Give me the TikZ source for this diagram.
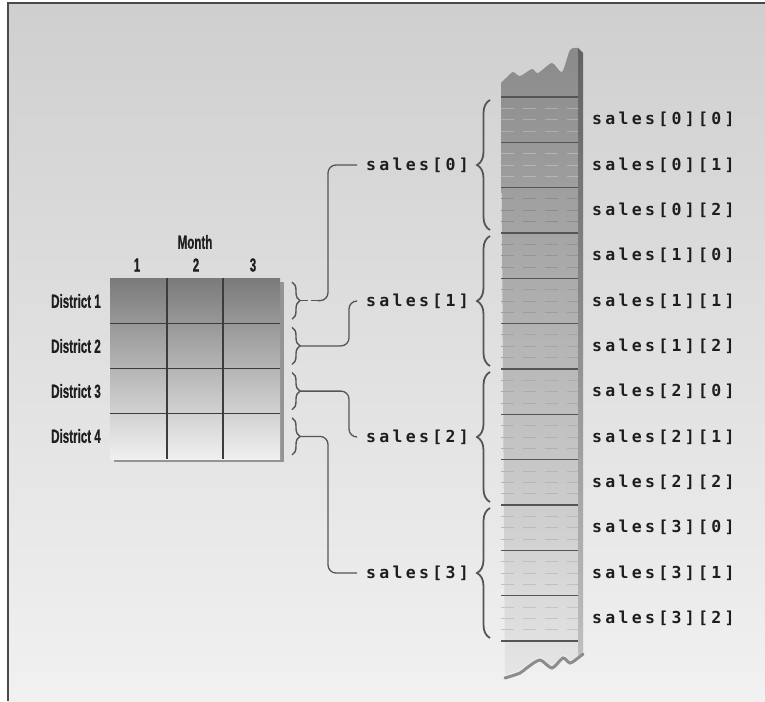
\documentclass[tikz,border=0pt]{standalone}
\usepackage{fontspec}
\usetikzlibrary{decorations.pathreplacing}
\newfontfamily\condf[FakeStretch=0.61, FakeBold=0.6]{Liberation Sans Bold}
\newfontfamily\monof[LetterSpace=20]{DejaVu Sans Mono Bold}
\definecolor{bgtop}{HTML}{CFCFCF}
\definecolor{bgbot}{HTML}{F1F1F1}
\definecolor{framec}{HTML}{4A4A4A}
\definecolor{linec}{HTML}{555555}
\definecolor{gridline}{HTML}{3C3C3C}
\definecolor{sepc}{HTML}{555555}
\definecolor{txtc}{HTML}{1E1E1E}
\tikzset{
  headlab/.style={font=\condf\fontsize{19}{21}\selectfont, text=txtc, inner sep=0pt},
  arrlab/.style={font=\monof\fontsize{16.5}{18}\selectfont, text=txtc, inner sep=0pt},
  rowlab/.style={font=\monof\fontsize{16.5}{18}\selectfont, text=txtc, inner ysep=0pt, inner xsep=9pt, anchor=west},
  conn/.style={draw=linec, line width=1.3pt, rounded corners=8pt},
  smallbrace/.style={draw=linec, line width=1.4pt, decorate, decoration={brace, amplitude=8pt}},
  bigbrace/.style={draw=linec, line width=1.8pt, decorate, decoration={brace, amplitude=13pt}},
  gline/.style={draw=gridline, line width=1.3pt},
  sepline/.style={draw=sepc, line width=1.3pt},
  dline/.style={line width=1pt, dash pattern=on 13pt off 9pt},
}
\begin{document}
\begin{tikzpicture}[x=1pt,y=-1pt]
\path[use as bounding box] (0,0) rectangle (765,701);
% background and frame
\shade[top color=bgtop, bottom color=bgbot] (8,3) rectangle (765,701);
\draw[framec, line width=1.5pt] (8,701) -- (8,3) -- (765,3);

% ---- 2D array grid ----
\fill[black!42] (114,282) rectangle (284,462);
\shade[top color=black!52, bottom color=black!6] (110,278) rectangle (280,459);
\foreach \x in {167,223} \draw[gline] (\x,278) -- (\x,459);
\foreach \y in {323.25,368.5,413.75} \draw[gline] (110,\y) -- (280,\y);

\node[headlab] (month) at (195,242) {Month};
\node[headlab] (m1) at (137,265) {1};
\node[headlab] (m2) at (196,265) {2};
\node[headlab] (m3) at (253,265) {3};
\node[headlab, anchor=east] (d1) at (101,301) {District 1};
\node[headlab, anchor=east] (d2) at (101,346) {District 2};
\node[headlab, anchor=east] (d3) at (101,391) {District 3};
\node[headlab, anchor=east] (d4) at (101,436) {District 4};

% small braces
\foreach \i/\t in {1/278,2/323.25,3/368.5,4/413.75}{
  \draw[smallbrace] (292,\t+4) -- (292,\t+41.25);
}
\coordinate (t1) at (300,300.6);
\coordinate (t2) at (300,345.9);
\coordinate (t3) at (300,391.1);
\coordinate (t4) at (300,436.4);

% ---- memory column ----
\shade[top color=black!46, middle color=black!24, bottom color=black!10]
  plot[smooth, tension=0.45] coordinates {(501,83) (506,78) (513,72) (520,76) (532,69) (538,73) (552,63) (562,72) (570,50) (578,48)}
  -- (578,656)
  -- plot[smooth, tension=0.45] coordinates {(578,656) (570,660) (563,655) (552,665) (540,657) (528,664) (520,670) (505,675)}
  -- cycle;
\shade[top color=black!62, bottom color=black!25] (578,48) -- (583,53) -- (583,652) -- (578,656) -- cycle;
\draw[black!45, line width=3pt, line cap=round]
  plot[smooth, tension=0.45] coordinates {(583,654) (578,658) (570,663) (563,658) (552,668) (540,660) (528,667) (520,673) (505,678)};
\foreach \k in {0,...,11}{
  \pgfmathsetmacro{\ym}{97+45.333*\k+22}
  \pgfmathsetmacro{\pf}{\ym<361.5 ? 46-22*(\ym-48)/313.5 : 24-14*(\ym-361.5)/313.5}
  \pgfmathsetmacro{\pd}{\k<2 ? \pf-9 : \pf+10}
  \foreach \d in {11.33,22.67,34}{
    \draw[dline, draw=black!\pd] (501,97+45.333*\k+\d) -- (578,97+45.333*\k+\d);
  }
}
\foreach \k in {0,...,12}{
  \draw[sepline] (501,97+45.333*\k) -- (578,97+45.333*\k);
}

% element labels
\foreach \i in {0,...,3}{
  \foreach \j in {0,1,2}{
    \pgfmathsetmacro{\yy}{97+45.333*(3*\i+\j)+22.67}
    \node[arrlab, anchor=west] (e\i\j) at (592,\yy) {sales[\i][\j]};
  }
}

% big braces and row labels
\foreach \k in {0,...,3}{
  \draw[bigbrace] (490,97+136*\k+133) -- (490,97+136*\k+3);
}
\node[rowlab] (s0) at (357,165) {sales[0]};
\node[rowlab] (s1) at (357,301) {sales[1]};
\node[rowlab] (s2) at (357,437) {sales[2]};
\node[rowlab] (s3) at (357,573) {sales[3]};

% connectors
\coordinate (c1) at (318,300.6);
\draw[conn, dash pattern=on 8pt off 3pt] (t1) -- (c1);
\draw[conn] (c1) -- (328,300.6) |- (s0.west);
\draw[conn] (t2) -- (349,345.9) |- (s1.west);
\draw[conn] (t3) -- (349,391.1) |- (s2.west);
\draw[conn] (t4) -- (328,436.4) |- (s3.west);
\end{tikzpicture}
\end{document}
